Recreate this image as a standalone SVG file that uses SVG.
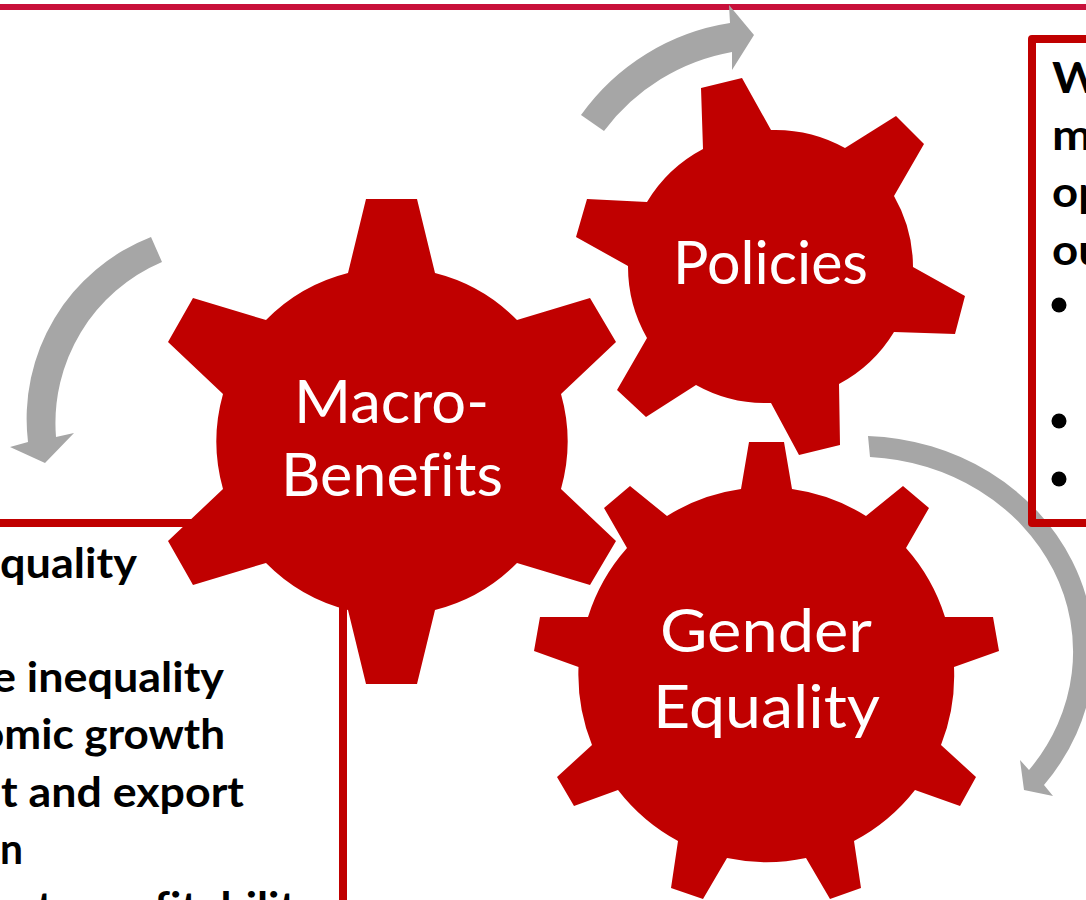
<svg xmlns="http://www.w3.org/2000/svg" width="1086" height="900" viewBox="0 0 1086 900">
<style>
.gear{fill:#C00000}
.arrow{fill:#A6A6A6}
.box{fill:none;stroke:#C00000;stroke-width:8;stroke-linejoin:round}
.g{font-family:"Lato","Noto Sans",sans-serif;font-size:60px;fill:#fff;font-variant-ligatures:none}
.b{font-family:"Lato","Noto Sans",sans-serif;font-size:42px;font-weight:700;fill:#000;font-variant-ligatures:none}
</style>
<rect width="1086" height="900" fill="#fff"/>
<rect x="0" y="4" width="1086" height="6" fill="#C8103A"/>
<g id="connectors">
<path class="arrow" d="M581 115L604 131A205 205 0 0 1 732 52L732 70L754 35L729 5L730 23A225 225 0 0 0 581 115Z"/>
<path class="arrow" d="M151 237L162 262A175 175 0 0 0 56 437L74 433L45 463L10 447L28 442A195 195 0 0 1 151 237Z"/>
<path class="arrow" d="M868 436L870 457A215 195 0 0 1 1029 770L1020 760L1024 790L1053 796L1044 785A235 216 0 0 0 868 436Z"/>
</g>
<g id="box-left">
<rect class="box" x="-40" y="523" width="383" height="460"/>
<text class="b" x="0" y="578" textLength="137" lengthAdjust="spacingAndGlyphs">quality</text>
<text class="b" x="-8" y="692" textLength="232" lengthAdjust="spacingAndGlyphs">e inequality</text>
<text class="b" x="-21" y="749" textLength="246" lengthAdjust="spacingAndGlyphs">omic growth</text>
<text class="b" x="1" y="807" textLength="243" lengthAdjust="spacingAndGlyphs">t and export</text>
<text class="b" x="0" y="864" textLength="23" lengthAdjust="spacingAndGlyphs">n</text>
<text class="b" x="-2" y="922" textLength="298" lengthAdjust="spacingAndGlyphs">rate profitabilit</text>
</g>
<g id="box-right">
<rect class="box" x="1032" y="39" width="100" height="484"/>
<text class="b" x="1052" y="93" textLength="50" lengthAdjust="spacingAndGlyphs">W</text>
<text class="b" x="1052" y="150" textLength="40" lengthAdjust="spacingAndGlyphs">m</text>
<text class="b" x="1052" y="207" textLength="52" lengthAdjust="spacingAndGlyphs">op</text>
<text class="b" x="1052" y="265" textLength="52" lengthAdjust="spacingAndGlyphs">ou</text>
<circle cx="1059" cy="305" r="7.500"/>
<circle cx="1059" cy="421" r="7.500"/>
<circle cx="1059" cy="479" r="7.500"/>
</g>
<g id="gear-macro">
<path class="gear" d="M366 199H417L435 273A175 175 0 0 1 517 320L590 298L616 342L561 394A175 175 0 0 1 561 489L616 541L590 585L517 563A175 175 0 0 1 435 610L417 684H366L348 610A175 175 0 0 1 266 563L193 585L168 541L223 489A175 175 0 0 1 223 394L168 342L193 298L266 320A175 175 0 0 1 348 273Z"/>
<text class="g" x="294" y="423" textLength="195" lengthAdjust="spacingAndGlyphs">Macro-</text>
<text class="g" x="281" y="496" textLength="222" lengthAdjust="spacingAndGlyphs">Benefits</text>
</g>
<g id="gear-policies">
<path class="gear" d="M701 88L742 78L771 130A143 143 0 0 1 845 148L896 116L924 144L894 196A143 143 0 0 1 913 267L965 296L955 334L894 332A143 143 0 0 1 839 384L840 445L799 455L771 403A143 143 0 0 1 696 385L646 417L617 390L647 338A143 143 0 0 1 628 266L576 237L587 199L647 202A143 143 0 0 1 703 149Z"/>
<text class="g" x="673" y="284" textLength="195" lengthAdjust="spacingAndGlyphs">Policies</text>
</g>
<g id="gear-gender">
<path class="gear" d="M749 442H784L792 489A189 189 0 0 1 866 516L903 486L929 508L906 548A189 189 0 0 1 945 617H993L999 651L954 667A189 189 0 0 1 941 745L976 777L960 806L915 790A189 189 0 0 1 854 841L861 888L830 899L806 858A189 189 0 0 1 727 858L703 899L671 888L678 841A189 189 0 0 1 618 790L574 806L557 777L592 745A189 189 0 0 1 578.500 667L534 651L540 617H588A189 189 0 0 1 627 548L604 508L630 486L667 516A189 189 0 0 1 741 489Z"/>
<text class="g" x="660" y="652" textLength="212" lengthAdjust="spacingAndGlyphs">Gender</text>
<text class="g" x="653" y="728" textLength="227" lengthAdjust="spacingAndGlyphs">Equality</text>
</g>
</svg>
